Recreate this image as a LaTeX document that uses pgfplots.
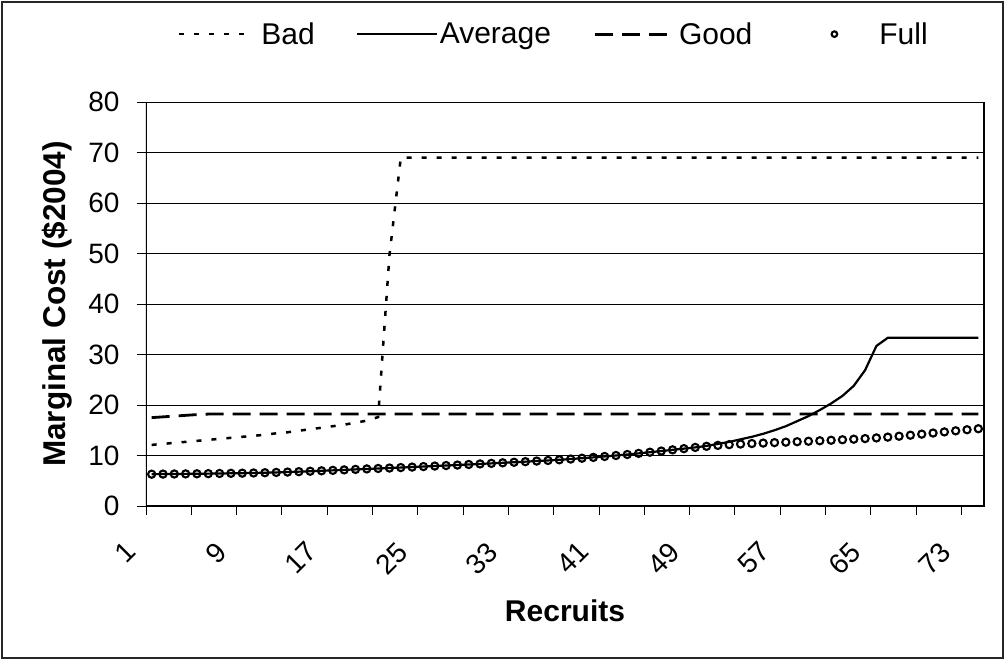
\documentclass[border=0pt]{standalone}
\usepackage{fontspec}
\setmainfont{Liberation Sans}
\usepackage{pgfplots}
\usepackage{pgfplotstable}
\pgfplotsset{compat=1.18}
\pgfplotsset{
  leg line/.style n args={3}{legend image code/.code={\path[draw=none] (#1,0pt) -- (#3,0pt);
    \draw[##1] (0pt,0pt) -- (#2,0pt);}},
  leg mark/.style={legend image code/.code={\path[draw=none] (-82pt,0pt) -- (45pt,0pt);
    \draw[##1, mark size=2.8pt] plot coordinates {(0pt,0pt)};}},
}

% marginal cost by recruit number (categories 1..74)
\pgfplotstableread{
c  bad   avg    good   full
1  12.1  6.30   17.50  6.30
2  12.3  6.32   17.65  6.32
3  12.5  6.34   17.80  6.34
4  12.7  6.36   17.95  6.36
5  12.9  6.38   18.10  6.38
6  13.1  6.41   18.20  6.41
7  13.3  6.44   18.20  6.44
8  13.5  6.47   18.20  6.47
9  13.7  6.50   18.20  6.50
10 13.9  6.54   18.20  6.54
11 14.1  6.59   18.20  6.59
12 14.4  6.65   18.20  6.65
13 14.6  6.72   18.20  6.72
14 14.9  6.80   18.20  6.80
15 15.2  6.88   18.20  6.88
16 15.5  6.97   18.20  6.97
17 15.8  7.06   18.20  7.06
18 16.1  7.15   18.20  7.15
19 16.5  7.25   18.20  7.25
20 16.9  7.34   18.20  7.34
21 17.6  7.43   18.20  7.43
22 49.7  7.52   18.20  7.52
23 69.0  7.61   18.20  7.61
24 69.0  7.71   18.20  7.71
25 69.0  7.81   18.20  7.81
26 69.0  7.91   18.20  7.91
27 69.0  8.01   18.20  8.01
28 69.0  8.11   18.20  8.11
29 69.0  8.22   18.20  8.22
30 69.0  8.33   18.20  8.33
31 69.0  8.44   18.20  8.44
32 69.0  8.55   18.20  8.55
33 69.0  8.66   18.20  8.66
34 69.0  8.78   18.20  8.78
35 69.0  8.90   18.20  8.90
36 69.0  9.02   18.20  9.02
37 69.0  9.15   18.20  9.15
38 69.0  9.30   18.20  9.30
39 69.0  9.46   18.20  9.46
40 69.0  9.63   18.20  9.63
41 69.0  9.81   18.20  9.81
42 69.0  10.00  18.20  10.00
43 69.0  10.20  18.20  10.20
44 69.0  10.42  18.20  10.42
45 69.0  10.65  18.20  10.65
46 69.0  10.88  18.20  10.88
47 69.0  11.12  18.20  11.12
48 69.0  11.36  18.20  11.36
49 69.0  11.60  18.20  11.60
50 69.0  11.90  18.20  11.82
51 69.0  12.30  18.20  12.00
52 69.0  12.70  18.20  12.15
53 69.0  13.20  18.20  12.27
54 69.0  13.70  18.20  12.37
55 69.0  14.30  18.20  12.46
56 69.0  15.00  18.20  12.55
57 69.0  15.80  18.20  12.64
58 69.0  16.80  18.20  12.73
59 69.0  17.80  18.20  12.82
60 69.0  19.00  18.20  12.92
61 69.0  20.30  18.20  13.02
62 69.0  21.80  18.20  13.12
63 69.0  23.80  18.20  13.23
64 69.0  26.90  18.20  13.35
65 69.0  31.70  18.20  13.48
66 69.0  33.30  18.20  13.64
67 69.0  33.30  18.20  13.82
68 69.0  33.30  18.20  14.02
69 69.0  33.30  18.20  14.23
70 69.0  33.30  18.20  14.45
71 69.0  33.30  18.20  14.67
72 69.0  33.30  18.20  14.89
73 69.0  33.30  18.20  15.10
74 69.0  33.30  18.20  15.30
}\costdata

\begin{document}
\begin{tikzpicture}
\begin{axis}[
  at={(0pt,0pt)}, anchor=south west,
  scale only axis, width=838pt, height=404pt,
  xmin=0.5, xmax=74.5, ymin=0, ymax=80,
  ytick={0,10,...,80},
  xtick={0.5,4.5,...,72.5}, xticklabels={},
  extra x ticks={1,9,...,73},
  extra x tick labels={1,9,17,25,33,41,49,57,65,73},
  extra x tick style={major tick length=0pt, grid=none,
    xticklabel style={xshift=-28pt, yshift=-34pt, rotate=45, anchor=north east, inner sep=0pt}},
  tick pos=left,
  tick align=outside, major tick length=9pt,
  tick style={black, line width=0.8pt},
  ymajorgrids, grid style={black, line width=0.8pt},
  axis line style={black, line width=0.8pt},
  tick label style={font=\fontsize{28}{32}\selectfont},
  yticklabel style={xshift=-14pt},
  /pgf/number format/assume math mode=true,
  xlabel={Recruits}, ylabel={Marginal Cost (\$2004)},
  every axis x label/.style={at={(axis description cs:0.5,-0.26)}, anchor=center,
    font=\bfseries\fontsize{30}{34}\selectfont},
  every axis y label/.style={at={(axis description cs:-0.106,0.5)}, rotate=90, anchor=center,
    font=\bfseries\fontsize{31.5}{36}\selectfont},
  legend columns=4,
  legend style={draw=none, fill=none, at={(axis description cs:0.0382,1.168)}, anchor=west,
    font=\fontsize{30}{34}\selectfont, inner sep=0pt,
    nodes={inner xsep=0pt, inner ysep=2pt},
    /tikz/every even column/.append style={column sep=0pt}},
]
\addplot[black, line width=2.5pt, dash pattern=on 5pt off 10pt, leg line={0pt}{67pt}{82pt}]
  table[x=c, y=bad] {\costdata};
\addplot[black, line width=2.2pt, leg line={-42pt}{80pt}{83pt}]
  table[x=c, y=avg] {\costdata};
\addplot[black, line width=2.8pt, dash pattern=on 18pt off 9pt, leg line={-44pt}{72pt}{84pt}]
  table[x=c, y=good] {\costdata};
\addplot[black, only marks, mark=o, mark size=3.6pt, mark options={line width=2.1pt}, leg mark]
  table[x=c, y=full] {\costdata};
\legend{Bad, Average, Good, Full}
\draw[black, line width=2.2pt] (rel axis cs:0,1) -- (rel axis cs:0,0) -- (rel axis cs:1,0) -- (rel axis cs:1,1);
\end{axis}
\draw[black!85, line width=1.2pt] (-144pt,-152pt) rectangle (857pt,504pt);
\pgfresetboundingbox
\path (-146pt,-155pt) rectangle (860pt,506pt);
\end{tikzpicture}
\end{document}
